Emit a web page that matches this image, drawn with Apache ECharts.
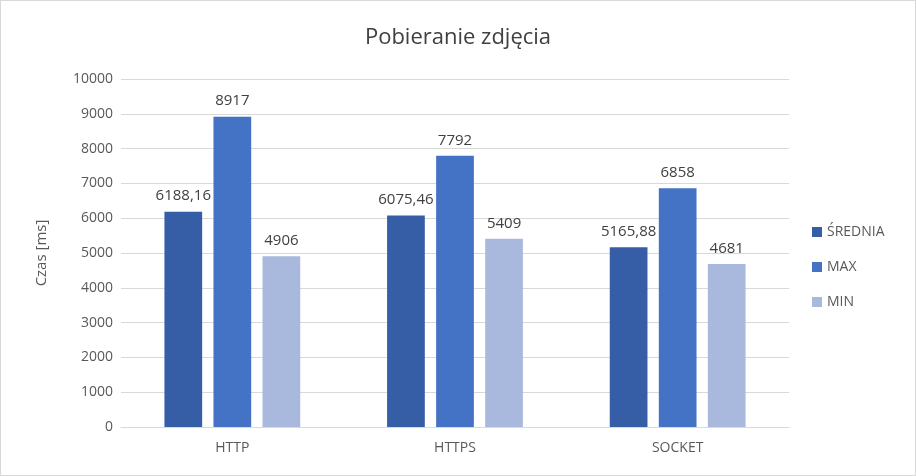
<!DOCTYPE html>
<html>
<head>
<meta charset="utf-8">
<script src="https://cdn.jsdelivr.net/npm/echarts@6/dist/echarts.min.js"></script>
<style>
  html, body { margin: 0; padding: 0; background: #fff; }
  #main { width: 914px; height: 474px; border: 1px solid #d9d9d9; }
</style>
</head>
<body>
<div id="main"></div>
<script>
  var categories = ['HTTP', 'HTTPS', 'SOCKET'];
  var srednia = [6188.16, 6075.46, 5165.88];
  var maxVals = [8917, 7792, 6858];
  var minVals = [4906, 5409, 4681];

  var myChart = echarts.init(document.getElementById('main'));

  // etykiety z przecinkiem dziesiętnym
  function label() {
    return {
      show: true,
      position: 'top',
      distance: 8,
      color: '#404040',
      fontSize: 15,
      fontFamily: 'Open Sans',
      formatter: function (p) { return String(p.value).replace('.', ','); }
    };
  }

  var option = {
    textStyle: { fontFamily: 'Open Sans' },
    title: {
      text: 'Pobieranie zdjęcia',
      left: 'center',
      top: 21,
      textStyle: { fontSize: 22, fontWeight: 'normal', color: '#404040' }
    },
    color: ['#355ea6', '#4472c4', '#a9b9de'],
    legend: {
      orient: 'vertical',
      left: 806,
      top: 219,
      itemWidth: 10,
      itemHeight: 10,
      itemGap: 21,
      icon: 'rect',
      textStyle: { fontSize: 14, color: '#595959' },
      data: ['ŚREDNIA', 'MAX', 'MIN']
    },
    grid: { left: 120, right: 126, top: 78, bottom: 48 },
    xAxis: {
      type: 'category',
      data: categories,
      axisTick: { show: false },
      axisLine: { lineStyle: { color: '#d9d9d9' } },
      axisLabel: { color: '#595959', fontSize: 14, margin: 14 }
    },
    yAxis: {
      type: 'value',
      min: 0,
      max: 10000,
      interval: 1000,
      name: 'Czas [ms]',
      nameLocation: 'middle',
      nameGap: 72,
      nameTextStyle: { color: '#595959', fontSize: 15 },
      axisLabel: { color: '#595959', fontSize: 14, formatter: function (v) { return String(v); } },
      splitLine: { lineStyle: { color: '#d9d9d9' } }
    },
    series: [
      { name: 'ŚREDNIA', type: 'bar', data: srednia, barGap: '30%', barCategoryGap: '39%', label: label() },
      { name: 'MAX', type: 'bar', data: maxVals, label: label() },
      { name: 'MIN', type: 'bar', data: minVals, label: label() }
    ]
  };

  myChart.setOption(option);
</script>
</body>
</html>
